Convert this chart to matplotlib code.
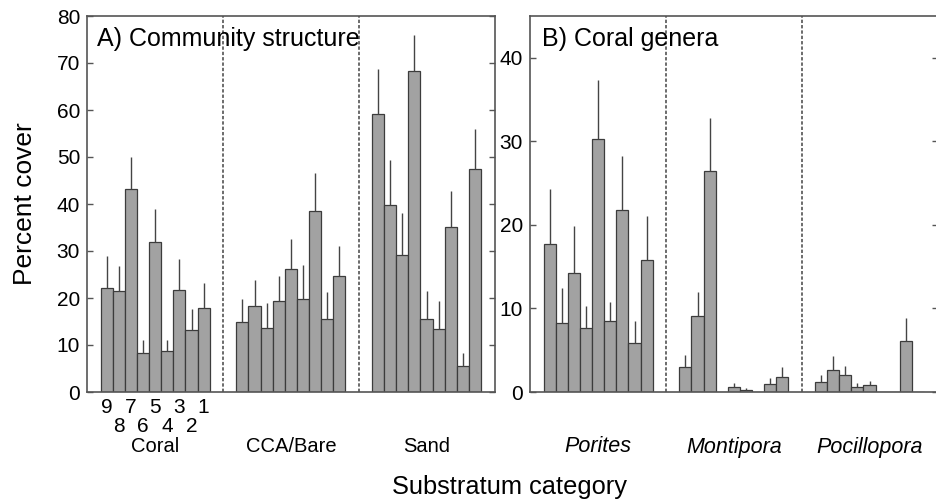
import matplotlib
matplotlib.use("Agg")
import matplotlib.pyplot as plt
import numpy as np

plt.rcParams['font.family'] = ['Liberation Sans', 'DejaVu Sans']

# Panel A: community structure (9 sites per category, site 9 -> 1)
groups_a = ["Coral", "CCA/Bare", "Sand"]
coral_mean = [22.2, 21.5, 43.1, 8.2, 31.9, 8.7, 21.7, 13.1, 17.9]
coral_upper = [29.0, 26.9, 50.1, 11.1, 38.9, 11.1, 28.2, 17.6, 23.2]
cca_mean = [14.9, 18.3, 13.6, 19.3, 26.2, 19.8, 38.6, 15.6, 24.6]
cca_upper = [19.8, 23.9, 18.9, 24.6, 32.6, 27.1, 46.6, 21.3, 31.1]
sand_mean = [59.1, 39.7, 29.2, 68.2, 15.5, 13.5, 35.2, 5.5, 47.5]
sand_upper = [68.8, 49.4, 38.1, 75.9, 21.5, 19.4, 42.8, 8.2, 55.9]

# Panel B: coral genera
groups_b = ["Porites", "Montipora", "Pocillopora"]
porites_mean = [17.7, 8.2, 14.3, 7.6, 30.3, 8.5, 21.8, 5.9, 15.8]
porites_upper = [24.3, 12.5, 19.9, 10.3, 37.4, 10.8, 28.2, 8.5, 21.1]
montipora_mean = [3.0, 9.1, 26.5, 0.0, 0.55, 0.2, 0.0, 1.0, 1.8]
montipora_upper = [4.4, 12.0, 32.8, 0.0, 1.1, 0.45, 0.0, 1.7, 3.0]
pocillopora_mean = [1.2, 2.6, 2.0, 0.55, 0.85, 0.0, 0.0, 6.1, 0.0]
pocillopora_upper = [2.0, 4.3, 3.1, 1.1, 1.3, 0.0, 0.0, 8.8, 0.0]

site_labels_odd = ["9", "7", "5", "3", "1"]
site_labels_even = ["8", "6", "4", "2"]

BAR_FILL = "#a2a2a2"
BAR_EDGE = "#3c3c3c"
AX_COL = "#555555"
GROUP_STEP = 11.2
TICK_FS = 15


def draw_panel(ax, means, uppers, names, ymax, italic=False):
    for g, (m, u) in enumerate(zip(means, uppers)):
        x = np.arange(len(m)) + g * GROUP_STEP
        m = np.array(m)
        u = np.array(u)
        ax.bar(x, m, width=1.0, color=BAR_FILL, edgecolor=BAR_EDGE, linewidth=0.9, zorder=2)
        ax.errorbar(x, m, yerr=[np.zeros_like(m), u - m], fmt='none', ecolor="#444444",
                    elinewidth=1.0, capsize=0, zorder=3)
        ax.annotate(names[g], xy=(4 + g * GROUP_STEP, 0), xycoords=('data', 'axes fraction'),
                    xytext=(0, -55), textcoords='offset pixels', ha='center', va='center',
                    fontsize=15.5 if italic else 14.5, style='italic' if italic else 'normal')
    for k in (1, 2):
        ax.axvline(k * GROUP_STEP - 1.6, color="#444444", lw=1.1, ls=(0, (2.2, 1.3)), zorder=1)
    ax.set_xlim(-1.63, 2 * GROUP_STEP + 8 + 1.65)
    ax.set_ylim(0, ymax)
    for sp in ax.spines.values():
        sp.set_color(AX_COL)
        sp.set_linewidth(1.2)
    ax.tick_params(axis='y', direction='in', length=4, width=1, color=AX_COL,
                   labelsize=TICK_FS, pad=5, right=True, left=True)
    ax.tick_params(axis='x', which='both', length=0)


fig = plt.figure(figsize=(9.36, 4.99), dpi=100)
ax_a = fig.add_axes([87 / 936, 107 / 499, 408 / 936, 376 / 499])
ax_b = fig.add_axes([530 / 936, 107 / 499, 408 / 936, 376 / 499])

draw_panel(ax_a, [coral_mean, cca_mean, sand_mean],
           [coral_upper, cca_upper, sand_upper], groups_a, 80)
ax_a.set_yticks(np.arange(0, 81, 10))
ax_a.set_xticks([0, 2, 4, 6, 8])
ax_a.set_xticklabels(site_labels_odd, fontsize=TICK_FS)
ax_a.set_xticks([1, 3, 5, 7], minor=True)
ax_a.set_xticklabels(site_labels_even, minor=True, fontsize=TICK_FS)
ax_a.tick_params(axis='x', which='major', pad=4)
ax_a.tick_params(axis='x', which='minor', pad=18)
ax_a.text(0.025, 0.94, "A) Community structure", transform=ax_a.transAxes,
          fontsize=18, va='center', ha='left')

draw_panel(ax_b, [porites_mean, montipora_mean, pocillopora_mean],
           [porites_upper, montipora_upper, pocillopora_upper], groups_b, 45, italic=True)
ax_b.set_yticks(np.arange(0, 41, 10))
ax_b.set_xticks([])
ax_b.text(0.029, 0.94, "B) Coral genera", transform=ax_b.transAxes,
          fontsize=18, va='center', ha='left')

fig.text(25 / 936, 1 - 204 / 499, "Percent cover", rotation=90, fontsize=19,
         ha='center', va='center')
fig.text(510 / 936, 1 - 487 / 499, "Substratum category", fontsize=18.3,
         ha='center', va='center')

fig.savefig("out.png", dpi=100)
